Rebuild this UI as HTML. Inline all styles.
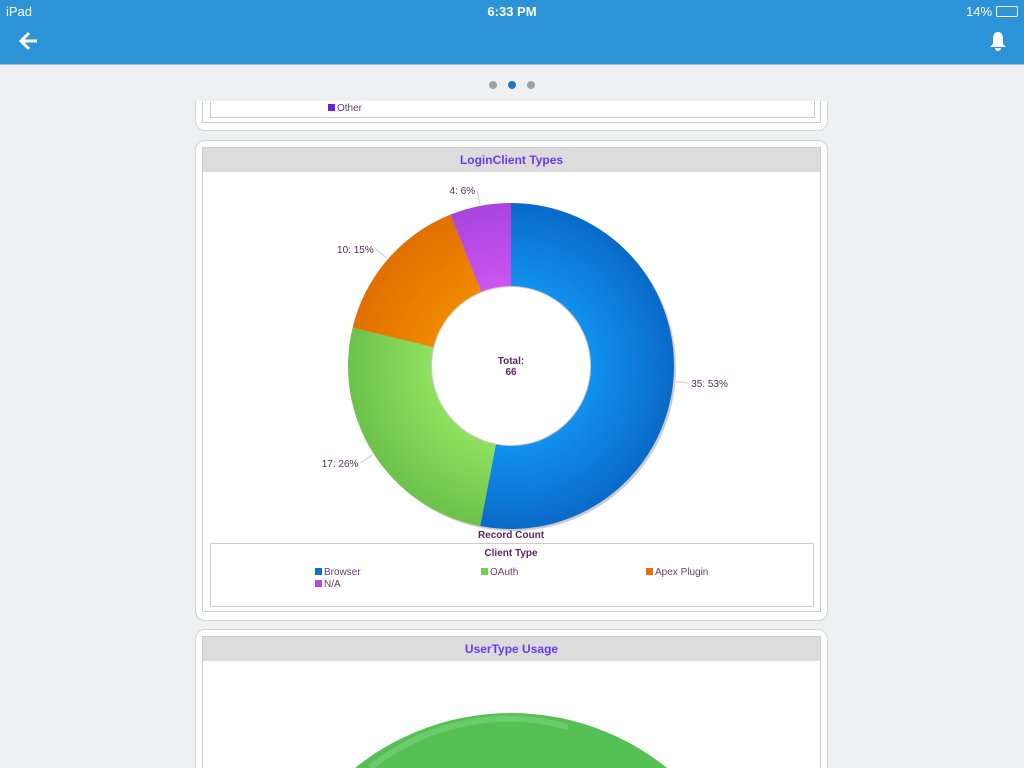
<!DOCTYPE html>
<html><head><meta charset="utf-8"><style>
html,body{margin:0;width:1024px;height:768px;overflow:hidden}
body{background:#eff0f2;font-family:"Liberation Sans",sans-serif;position:relative}
.abs{position:absolute}
</style></head><body>
<div class="abs" style="left:0;top:0;width:1024px;height:64px;background:#2b93d6;border-bottom:1px solid #a9b8c6"></div>
<div class="abs" style="left:6px;top:4px;color:#fff;font-size:13px">iPad</div>
<div class="abs" style="left:0;width:1024px;top:4px;text-align:center;color:#fff;font-size:13px;font-weight:bold">6:33 PM</div>
<div class="abs" style="left:966px;top:4px;color:#fff;font-size:13px">14% <span style="display:inline-block;width:20px;height:9px;border:1px solid #fff;border-radius:2px;vertical-align:-1px"></span></div>
<svg class="abs" style="left:18px;top:30px" width="24" height="22"><path d="M19 11H4M11 3L3 11L11 19" stroke="#fff" stroke-width="3" fill="none"/></svg>
<svg class="abs" style="left:988px;top:30px" width="20" height="22"><path d="M10 2C6 2 5 6 5 9V14L2 17H18L15 14V9C15 6 14 2 10 2Z M7 18a3 3 0 0 0 6 0Z" fill="#fff"/></svg>

<div class="abs" style="left:195px;top:80px;width:631px;height:50px;background:#fff;border:1px solid #d0d4d8;border-radius:0 0 10px 10px;border-top:none"></div>
<div class="abs" style="left:202px;top:100px;width:617px;height:22px;border:1px solid #ccc;border-top:none"></div>
<div class="abs" style="left:210px;top:100px;width:603px;height:17px;border:1px solid #ccc;border-top:none"></div>
<div class="abs" style="left:328px;top:103px;font-size:10px;color:#6b3a6b"><span style="display:inline-block;width:7px;height:7px;background:#6b1fd6;margin-right:2px"></span>Other</div>
<div class="abs" style="left:0;top:65px;width:1024px;height:36px;background:#eff0f2"></div>
<div class="abs" style="left:489px;top:81px;width:8px;height:8px;border-radius:50%;background:#9aa1a8"></div>
<div class="abs" style="left:508px;top:81px;width:8px;height:8px;border-radius:50%;background:#2277bb"></div>
<div class="abs" style="left:527px;top:81px;width:8px;height:8px;border-radius:50%;background:#9aa1a8"></div>

<div class="abs" style="left:195px;top:140px;width:631px;height:479px;background:#fff;border:1px solid #d0d4d8;border-radius:10px"></div>
<div class="abs" style="left:202px;top:147px;width:617px;height:463px;border:1px solid #ccc"></div>
<div class="abs" style="left:203px;top:148px;width:617px;height:24px;background:#dcdcdc;color:#6a3af0;font-weight:bold;font-size:12px;line-height:24px;text-align:center">LoginClient Types</div>

<div class="abs" style="left:195px;top:629px;width:631px;height:139px;background:#fff;border:1px solid #d0d4d8;border-bottom:none;border-radius:10px 10px 0 0"></div>
<div class="abs" style="left:202px;top:636px;width:617px;height:132px;border:1px solid #ccc;border-bottom:none"></div>
<div class="abs" style="left:203px;top:637px;width:617px;height:24px;background:#dcdcdc;color:#6a3af0;font-weight:bold;font-size:12px;line-height:24px;text-align:center">UserType Usage</div>

<svg class="abs" id="donut" style="left:0;top:0" width="1024" height="768">
<defs>
<radialGradient id="g0" cx="511" cy="366" r="163" gradientUnits="userSpaceOnUse"><stop offset="0.5" stop-color="#1190ee"/><stop offset="1" stop-color="#0a6ac8"/></radialGradient>
<radialGradient id="g1" cx="511" cy="366" r="163" gradientUnits="userSpaceOnUse"><stop offset="0.5" stop-color="#8fe060"/><stop offset="1" stop-color="#6cc24a"/></radialGradient>
<radialGradient id="g2" cx="511" cy="366" r="163" gradientUnits="userSpaceOnUse"><stop offset="0.5" stop-color="#f08800"/><stop offset="1" stop-color="#e07000"/></radialGradient>
<radialGradient id="g3" cx="511" cy="366" r="163" gradientUnits="userSpaceOnUse"><stop offset="0.5" stop-color="#cc55f0"/><stop offset="1" stop-color="#a844dd"/></radialGradient>
</defs>
<circle cx="511" cy="962" r="249" fill="#55c155"/>
<path d="M370 768 A220 220 0 0 1 568 727" stroke="#6ccb6c" stroke-width="6" fill="none"/>
</svg>
<div class="abs" style="left:461px;top:356px;width:100px;text-align:center;font-size:10px;font-weight:bold;color:#5a2a5a;line-height:11px">Total:<br>66</div>
<div class="abs" style="left:411px;top:530px;width:200px;text-align:center;font-size:10px;font-weight:bold;color:#5a2a5a">Record Count</div>
<div class="abs" style="left:210px;top:543px;width:602px;height:62px;border:1px solid #ccc"></div>
<div class="abs" style="left:411px;top:548px;width:200px;text-align:center;font-size:10px;font-weight:bold;color:#5a2a5a">Client Type</div>
<div id="legend"></div>
<script>
const categories=["Browser","OAuth","Apex Plugin","N/A"];
const values=[35,17,10,4];
const colors=["#0d6fd0","#78cc55","#e57200","#b04ce0"];
const grads=["url(#g0)","url(#g1)","url(#g2)","url(#g3)"];
const svg=document.getElementById('donut');const NS="http://www.w3.org/2000/svg";
const cx=511,cy=366,R=163,r=80;
const total=values.reduce((a,b)=>a+b,0);
function pt(a,rad){return [cx+rad*Math.sin(a),cy-rad*Math.cos(a)];}
const sh=document.createElementNS(NS,'circle');
sh.setAttribute('cx',cx+2);sh.setAttribute('cy',cy+2);sh.setAttribute('r',R);sh.setAttribute('fill','#ccc');


svg.appendChild(sh);
let acc=0;
values.forEach((v,i)=>{
 const a0=acc/total*2*Math.PI;acc+=v;const a1=acc/total*2*Math.PI;
 const lg=(a1-a0)>Math.PI?1:0;
 const [x0,y0]=pt(a0,R),[x1,y1]=pt(a1,R),[x2,y2]=pt(a1,r),[x3,y3]=pt(a0,r);
 const p=document.createElementNS(NS,'path');
 p.setAttribute('d',`M${x0} ${y0}A${R} ${R} 0 ${lg} 1 ${x1} ${y1}L${x2} ${y2}A${r} ${r} 0 ${lg} 0 ${x3} ${y3}Z`);
 p.setAttribute('fill',grads[i]);
 
 
 svg.appendChild(p);
 const am=(a0+a1)/2;const [lx,ly]=pt(am,R+2),[ex,ey]=pt(am,R+16);
 const ln=document.createElementNS(NS,'line');
 ln.setAttribute('x1',lx);ln.setAttribute('y1',ly);ln.setAttribute('x2',ex);ln.setAttribute('y2',ey);ln.setAttribute('stroke','#ccc');
 
 
 svg.appendChild(ln);
 const t=document.createElementNS(NS,'text');
 const right=Math.sin(am)>0;
 t.setAttribute('x',ex+(right?2:-2));t.setAttribute('y',ey+4);
 t.setAttribute('text-anchor',right?'start':'end');t.setAttribute('font-size','10');t.setAttribute('fill','#5a2a5a');
 t.setAttribute('font-family','Liberation Sans, sans-serif');
 t.textContent=v+': '+Math.round(v/total*100)+'%';
 
 
 svg.appendChild(t);
});
const ci=document.createElementNS(NS,'circle');
ci.setAttribute('cx',cx);ci.setAttribute('cy',cy);ci.setAttribute('r',r-1);ci.setAttribute('fill','#fff');


svg.appendChild(ci);
const lp=[[315,567],[481,567],[646,567],[315,579]];
const L=document.getElementById('legend');
categories.forEach((c,i)=>{
 const d=document.createElement('div');d.className='abs';
 d.style.cssText=`left:${lp[i][0]}px;top:${lp[i][1]}px;font-size:10px;color:#6b3a6b;white-space:nowrap`;
 d.innerHTML=`<span style="display:inline-block;width:7px;height:7px;background:${colors[i]};margin-right:2px"></span>${c}`;
 
 
 L.appendChild(d);
});
</script>
</body></html>
